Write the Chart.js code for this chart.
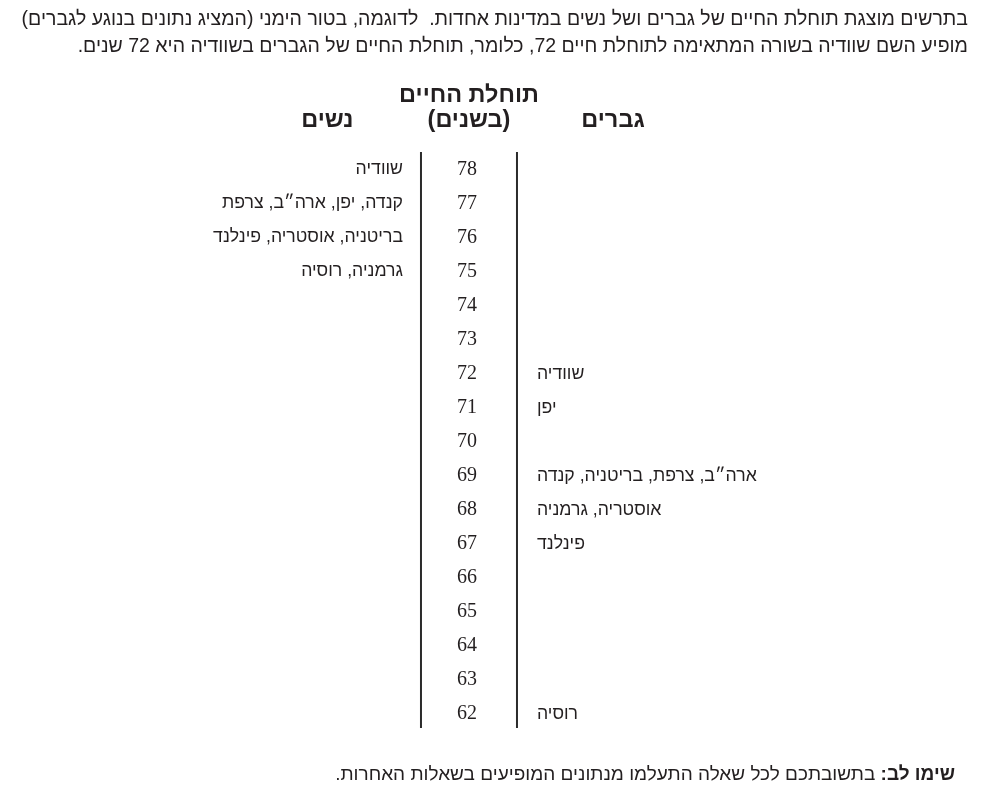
<!DOCTYPE html>
<html lang="he">
<head>
<meta charset="utf-8">
<script src="https://cdn.jsdelivr.net/npm/chart.js@4.4.1/dist/chart.umd.min.js"></script>
<style>html,body{margin:0;padding:0;background:#fff;overflow:hidden}canvas{display:block}</style>
</head>
<body>
<canvas id="c" width="985" height="796"></canvas>
<script>
// ---- data ----
const lifeYears = [78, 77, 76, 75, 74, 73, 72, 71, 70, 69, 68, 67, 66, 65, 64, 63, 62];
const womenCountries = [
  'שוודיה',
  'קנדה, יפן, ארה״ב, צרפת',
  'בריטניה, אוסטריה, פינלנד',
  'גרמניה, רוסיה',
  '', '', '', '', '', '', '', '', '', '', '', '', ''
];
const menCountries = [
  '', '', '', '', '', '',
  'שוודיה',
  'יפן',
  '',
  'ארה״ב, צרפת, בריטניה, קנדה',
  'אוסטריה, גרמניה',
  'פינלנד',
  '', '', '', '',
  'רוסיה'
];
const introLines = [
  'בתרשים מוצגת תוחלת החיים של גברים ושל נשים במדינות אחדות.  לדוגמה, בטור הימני (המציג נתונים בנוגע לגברים)',
  'מופיע השם שוודיה בשורה המתאימה לתוחלת חיים 72, כלומר, תוחלת החיים של הגברים בשוודיה היא 72 שנים.'
];
const titleLines = ['תוחלת החיים', '(בשנים)'];
const womenTitle = 'נשים';
const menTitle = 'גברים';
const noteBold = 'שימו לב:';
const noteText = 'בתשובתכם לכל שאלה התעלמו מנתונים המופיעים בשאלות האחרות.';

// ---- layout / style ----
const Y_MIN = 61.545, Y_MAX = 78.47;
const INK = '#231f20';
const SANS = '"Liberation Sans", Arial, sans-serif';
const SERIF = '"Liberation Serif", "Times New Roman", serif';

const textPlugin = {
  id: 'texts',
  afterDatasetsDraw(chart) {
    const ctx = chart.ctx;
    chart.data.datasets.forEach((ds, i) => {
      if (!ds.textLabels) return;
      const meta = chart.getDatasetMeta(i);
      ctx.save();
      ctx.font = ds.textFont;
      ctx.fillStyle = INK;
      ctx.textAlign = ds.textAlign;
      ctx.textBaseline = 'middle';
      ctx.direction = ds.textDir;
      meta.data.forEach((pt, j) => {
        const t = ds.textLabels[j];
        if (t) ctx.fillText(t, pt.x + ds.textOffset, pt.y + ds.textDy);
      });
      ctx.restore();
    });
  },
  afterDraw(chart) {
    const ctx = chart.ctx;
    const xs = chart.scales.x;
    ctx.save();
    ctx.direction = 'rtl';
    ctx.fillStyle = INK;
    ctx.textBaseline = 'middle';
    // intro paragraph
    ctx.font = '19.5px ' + SANS;
    ctx.textAlign = 'right';
    ctx.fillText(introLines[0], 968, 20);
    ctx.fillText(introLines[1], 968, 47);
    // headings
    ctx.font = 'bold 23.5px ' + SANS;
    ctx.textAlign = 'center';
    ctx.fillText(titleLines[0], xs.getPixelForValue(0), 96);
    ctx.fillText(titleLines[1], xs.getPixelForValue(0), 121);
    ctx.fillText(womenTitle, xs.getPixelForValue(-2.95), 121);
    ctx.fillText(menTitle, xs.getPixelForValue(3), 121);
    // note
    ctx.textAlign = 'right';
    ctx.font = 'bold 19px ' + SANS;
    ctx.fillText(noteBold, 955, 775);
    const bw = ctx.measureText(noteBold).width;
    ctx.font = '19px ' + SANS;
    const sp = ctx.measureText(' ').width;
    ctx.fillText(noteText, 955 - bw - sp, 775);
    ctx.restore();
  }
};

const axisLine = (xv) => ({
  type: 'line',
  data: [{x: xv, y: Y_MIN}, {x: xv, y: Y_MAX}],
  borderColor: '#2b2b2b',
  borderWidth: 2,
  pointRadius: 0,
  fill: false
});

const textSet = (xv, labels, font, align, offset, dy) => ({
  type: 'scatter',
  data: lifeYears.map(v => ({x: xv, y: v})),
  pointRadius: 0,
  pointHoverRadius: 0,
  textLabels: labels,
  textFont: font,
  textAlign: align,
  textDir: 'rtl',
  textOffset: offset,
  textDy: dy
});

new Chart(document.getElementById('c'), {
  data: {
    datasets: [
      axisLine(-1),
      axisLine(1),
      textSet(0, lifeYears.map(String), '20px ' + SERIF, 'center', -2, 1.5),
      textSet(-1, womenCountries, '17.7px ' + SANS, 'right', -18, 1.5),
      textSet(1, menCountries, '17.7px ' + SANS, 'left', 20, 1.5)
    ]
  },
  options: {
    responsive: false,
    animation: false,
    events: [],
    layout: {padding: {top: 152, bottom: 68, left: 0, right: 0}},
    plugins: {legend: {display: false}, tooltip: {enabled: false}},
    scales: {
      x: {type: 'linear', display: false, min: -9.77, max: 10.75},
      y: {type: 'linear', display: false, min: Y_MIN, max: Y_MAX}
    }
  },
  plugins: [textPlugin]
});
</script>
</body>
</html>
